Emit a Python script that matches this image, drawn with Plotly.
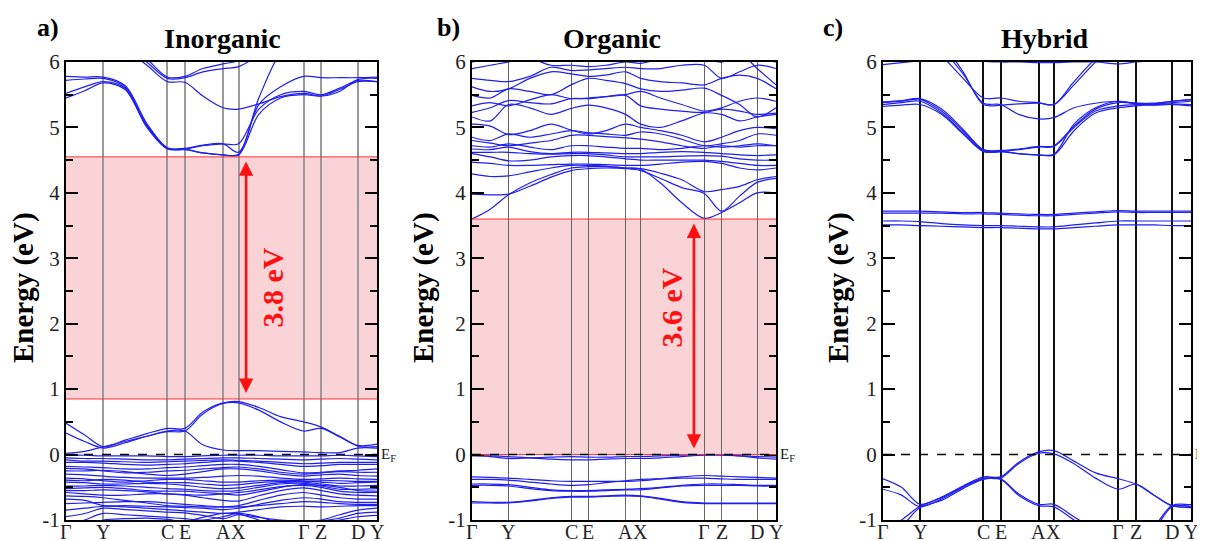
import plotly.graph_objects as go

# ---------------- data ----------------
K_NODES = [0, 0.12, 0.326, 0.382, 0.505, 0.555, 0.764, 0.821, 0.938, 1.0]
K_LABELS = ["Γ", "Y", "C", "E", "A", "X", "Γ", "Z", "D", "Y"]
K_GRID = [0, .06, .12, .19, .26, .326, .382, .44, .505, .555, .62, .69, .764, .821, .88, .938, 1.0]
Y_TICKS = [-1, 0, 1, 2, 3, 4, 5, 6]
Y_TICKTEXT = ["-1", "0", "1", "2", "3", "4", "5", "6"]

PANEL_TITLES = ["Inorganic", "Organic", "Hybrid"]
PANEL_TAGS = ["a)", "b)", "c)"]

# Inorganic bands (eV) at K_GRID
INORG_CB = [
    [5.45, 5.56, 5.68, 5.58, 5.00, 4.67, 4.66, 4.61, 4.58, 4.58, 5.20, 5.45, 5.50, 5.48, 5.58, 5.70, 5.70],
    [5.52, 5.62, 5.70, 5.60, 5.02, 4.68, 4.67, 4.72, 4.75, 4.75, 5.28, 5.50, 5.55, 5.50, 5.60, 5.72, 5.70],
    [5.72, 5.74, 5.75, 5.62, 5.04, 4.68, 4.67, 4.61, 4.58, 4.59, 5.35, 5.62, 5.78, 5.76, 5.76, 5.76, 5.77],
    [5.78, 5.77, 5.77, 5.64, 5.06, 4.69, 4.68, 4.73, 4.75, 4.62, 5.45, 6.15, 6.5, 6.6, 6.6, 6.6, 6.6],
    [6.5, 6.45, 6.35, 6.2, 5.95, 5.70, 5.69, 5.48, 5.30, 5.28, 5.36, 5.47, 5.52, 5.48, 5.55, 5.73, 5.75],
    [6.6, 6.55, 6.45, 6.3, 6.0, 5.75, 5.76, 5.85, 5.90, 5.93, 6.1, 6.3, 6.4, 6.4, 6.4, 6.4, 6.4],
    [6.7, 6.6, 6.5, 6.35, 6.05, 5.77, 5.78, 5.90, 5.97, 6.02, 6.2, 6.4, 6.5, 6.5, 6.5, 6.5, 6.5],
]
INORG_VB = [
    [0.48, 0.30, 0.12, 0.22, 0.32, 0.40, 0.40, 0.65, 0.79, 0.81, 0.72, 0.58, 0.50, 0.42, 0.28, 0.14, 0.16],
    [0.33, 0.20, 0.10, 0.18, 0.28, 0.35, 0.36, 0.62, 0.78, 0.79, 0.68, 0.50, 0.36, 0.40, 0.27, 0.13, 0.12],
    [0.02, 0.05, 0.12, 0.20, 0.28, 0.36, 0.36, 0.15, 0.07, 0.06, 0.06, 0.05, 0.04, 0.03, 0.03, 0.10, 0.10],
    [-0.01, -0.01, -0.02, -0.02, -0.02, -0.03, -0.03, -0.02, -0.01, -0.01, -0.01, -0.02, -0.02, -0.02, -0.01, -0.02, -0.03],
    [-0.05, -0.06, -0.06, -0.07, -0.08, -0.08, -0.07, -0.06, -0.05, -0.05, -0.06, -0.07, -0.08, -0.07, -0.06, -0.07, -0.08],
    [-0.08, -0.10, -0.10, -0.11, -0.12, -0.11, -0.10, -0.09, -0.08, -0.09, -0.10, -0.12, -0.14, -0.13, -0.12, -0.12, -0.12],
    [-0.12, -0.12, -0.13, -0.15, -0.16, -0.15, -0.14, -0.12, -0.10, -0.10, -0.12, -0.15, -0.18, -0.17, -0.15, -0.15, -0.15],
    [-0.18, -0.19, -0.20, -0.22, -0.22, -0.20, -0.19, -0.17, -0.15, -0.15, -0.18, -0.23, -0.28, -0.27, -0.25, -0.24, -0.22],
    [-0.21, -0.22, -0.25, -0.28, -0.27, -0.25, -0.24, -0.22, -0.20, -0.19, -0.22, -0.27, -0.30, -0.28, -0.26, -0.27, -0.27],
    [-0.25, -0.25, -0.24, -0.26, -0.30, -0.32, -0.30, -0.26, -0.22, -0.22, -0.25, -0.30, -0.33, -0.31, -0.30, -0.32, -0.33],
    [-0.30, -0.31, -0.33, -0.35, -0.36, -0.36, -0.36, -0.35, -0.33, -0.32, -0.33, -0.36, -0.38, -0.37, -0.36, -0.37, -0.38],
    [-0.36, -0.37, -0.40, -0.42, -0.40, -0.38, -0.38, -0.40, -0.42, -0.42, -0.40, -0.39, -0.40, -0.42, -0.44, -0.43, -0.42],
    [-0.39, -0.40, -0.38, -0.39, -0.42, -0.43, -0.43, -0.45, -0.47, -0.46, -0.43, -0.41, -0.41, -0.40, -0.40, -0.41, -0.41],
    [-0.42, -0.43, -0.45, -0.45, -0.44, -0.45, -0.47, -0.50, -0.52, -0.51, -0.47, -0.43, -0.42, -0.45, -0.48, -0.48, -0.47],
    [-0.48, -0.48, -0.47, -0.48, -0.50, -0.52, -0.53, -0.55, -0.56, -0.55, -0.50, -0.45, -0.44, -0.48, -0.53, -0.53, -0.52],
    [-0.52, -0.51, -0.50, -0.52, -0.55, -0.56, -0.56, -0.58, -0.60, -0.62, -0.57, -0.50, -0.46, -0.47, -0.50, -0.55, -0.56],
    [-0.55, -0.55, -0.54, -0.55, -0.57, -0.60, -0.61, -0.62, -0.60, -0.58, -0.54, -0.49, -0.47, -0.50, -0.56, -0.58, -0.58],
    [-0.58, -0.60, -0.62, -0.62, -0.60, -0.60, -0.62, -0.66, -0.70, -0.71, -0.63, -0.55, -0.51, -0.55, -0.60, -0.62, -0.63],
    [-0.63, -0.64, -0.66, -0.70, -0.74, -0.78, -0.79, -0.80, -0.80, -0.78, -0.70, -0.62, -0.58, -0.62, -0.66, -0.68, -0.68],
    [-0.68, -0.70, -0.78, -0.78, -0.79, -0.80, -0.81, -0.82, -0.84, -0.82, -0.76, -0.70, -0.66, -0.68, -0.72, -0.73, -0.73],
    [-0.75, -0.74, -0.73, -0.72, -0.72, -0.74, -0.76, -0.78, -0.80, -0.80, -0.78, -0.75, -0.72, -0.73, -0.75, -0.76, -0.76],
    [-0.85, -0.82, -0.79, -0.80, -0.82, -0.84, -0.86, -0.88, -0.90, -0.88, -0.84, -0.80, -0.79, -0.80, -0.79, -0.78, -0.78],
    [-0.95, -0.90, -0.82, -0.84, -0.86, -0.88, -0.89, -0.93, -0.98, -0.92, -0.96, -1.00, -1.02, -1.00, -0.92, -0.85, -0.82],
    [-1.10, -1.00, -0.90, -0.92, -0.94, -0.96, -0.98, -1.00, -0.95, -0.90, -0.95, -1.05, -1.10, -1.02, -0.97, -0.90, -0.88],
    [-1.20, -1.10, -1.00, -0.98, -0.97, -0.99, -1.02, -0.96, -0.90, -0.91, -1.00, -1.10, -1.15, -1.05, -1.00, -0.95, -0.93],
]

# Organic bands
ORG_CB = [
    [3.60, 3.75, 3.97, 4.15, 4.28, 4.38, 4.40, 4.40, 4.38, 4.36, 4.15, 3.85, 3.61, 3.70, 3.85, 4.00, 4.00],
    [3.98, 3.97, 3.98, 4.10, 4.24, 4.34, 4.37, 4.38, 4.37, 4.34, 4.22, 4.08, 3.99, 3.72, 3.95, 4.16, 4.22],
    [4.29, 4.25, 4.26, 4.32, 4.38, 4.42, 4.42, 4.41, 4.38, 4.37, 4.30, 4.20, 4.02, 4.05, 4.10, 4.20, 4.25],
    [4.47, 4.45, 4.42, 4.42, 4.43, 4.44, 4.44, 4.43, 4.42, 4.42, 4.44, 4.47, 4.48, 4.45, 4.38, 4.35, 4.38],
    [4.60, 4.55, 4.49, 4.50, 4.55, 4.57, 4.57, 4.55, 4.52, 4.50, 4.50, 4.50, 4.50, 4.48, 4.45, 4.42, 4.42],
    [4.62, 4.62, 4.62, 4.60, 4.59, 4.60, 4.60, 4.58, 4.55, 4.55, 4.55, 4.56, 4.57, 4.56, 4.52, 4.50, 4.50],
    [4.67, 4.66, 4.70, 4.63, 4.60, 4.62, 4.62, 4.61, 4.60, 4.60, 4.62, 4.63, 4.62, 4.60, 4.58, 4.57, 4.58],
    [4.72, 4.70, 4.75, 4.70, 4.66, 4.72, 4.72, 4.70, 4.68, 4.68, 4.66, 4.68, 4.72, 4.70, 4.72, 4.75, 4.72],
    [4.80, 4.76, 4.72, 4.76, 4.80, 4.88, 4.88, 4.86, 4.84, 4.82, 4.78, 4.72, 4.68, 4.72, 4.70, 4.72, 4.72],
    [4.85, 4.80, 4.90, 4.85, 4.90, 4.95, 4.92, 4.90, 4.88, 4.93, 4.90, 4.82, 4.72, 4.75, 4.80, 4.90, 4.88],
    [5.05, 5.02, 4.89, 4.95, 5.05, 4.96, 4.90, 4.95, 5.05, 5.00, 4.95, 4.88, 4.78, 4.85, 4.95, 5.00, 4.98],
    [5.16, 5.10, 5.35, 5.30, 5.20, 5.29, 5.34, 5.30, 5.20, 5.05, 5.00, 5.10, 5.22, 5.20, 5.10, 5.16, 5.20],
    [5.23, 5.30, 5.41, 5.38, 5.36, 5.44, 5.44, 5.47, 5.49, 5.33, 5.28, 5.25, 5.23, 5.28, 5.25, 5.20, 5.22],
    [5.33, 5.38, 5.33, 5.42, 5.50, 5.44, 5.45, 5.47, 5.50, 5.55, 5.45, 5.35, 5.25, 5.30, 5.40, 5.45, 5.40],
    [5.49, 5.45, 5.59, 5.55, 5.50, 5.65, 5.75, 5.72, 5.67, 5.59, 5.55, 5.57, 5.60, 5.49, 5.35, 5.16, 5.30],
    [5.62, 5.55, 5.59, 5.75, 5.85, 5.82, 5.78, 5.80, 5.85, 5.75, 5.70, 5.68, 5.65, 5.75, 5.80, 5.75, 5.59],
    [5.75, 5.72, 5.70, 5.78, 5.92, 5.87, 5.88, 5.90, 5.92, 5.90, 5.90, 5.95, 5.95, 5.75, 5.85, 5.95, 5.90],
    [5.90, 5.95, 6.00, 6.05, 5.95, 5.95, 5.93, 5.95, 6.00, 5.98, 6.05, 6.10, 6.05, 6.00, 6.10, 6.05, 6.00],
    [6.00, 6.05, 6.10, 6.20, 6.30, 6.20, 6.10, 6.10, 6.20, 6.20, 6.30, 6.30, 6.30, 6.20, 6.15, 5.90, 5.65],
]
ORG_VB = [
    [-0.01, -0.03, -0.06, -0.05, -0.04, -0.03, -0.04, -0.04, -0.03, -0.03, -0.02, -0.01, 0.00, 0.00, -0.02, -0.05, -0.07],
    [-0.02, -0.02, -0.03, -0.05, -0.07, -0.08, -0.08, -0.07, -0.06, -0.06, -0.05, -0.03, -0.01, -0.01, -0.02, -0.03, -0.04],
    [-0.34, -0.35, -0.36, -0.38, -0.40, -0.41, -0.41, -0.41, -0.41, -0.40, -0.37, -0.34, -0.32, -0.33, -0.34, -0.35, -0.36],
    [-0.38, -0.38, -0.39, -0.42, -0.45, -0.47, -0.46, -0.43, -0.40, -0.38, -0.37, -0.36, -0.36, -0.37, -0.38, -0.38, -0.38],
    [-0.45, -0.45, -0.46, -0.50, -0.54, -0.55, -0.55, -0.54, -0.53, -0.52, -0.50, -0.47, -0.45, -0.45, -0.46, -0.47, -0.47],
    [-0.47, -0.47, -0.48, -0.52, -0.55, -0.56, -0.56, -0.55, -0.54, -0.54, -0.51, -0.48, -0.47, -0.47, -0.47, -0.48, -0.48],
    [-0.72, -0.73, -0.73, -0.70, -0.66, -0.64, -0.64, -0.63, -0.62, -0.63, -0.67, -0.72, -0.74, -0.74, -0.74, -0.74, -0.74],
    [-0.74, -0.74, -0.74, -0.71, -0.67, -0.65, -0.65, -0.64, -0.63, -0.64, -0.68, -0.73, -0.75, -0.75, -0.75, -0.75, -0.75],
]

# Hybrid bands
HYB_CB = [
    [5.32, 5.34, 5.35, 5.20, 4.90, 4.63, 4.63, 4.66, 4.70, 4.71, 5.00, 5.25, 5.33, 5.35, 5.34, 5.35, 5.33],
    [5.35, 5.38, 5.40, 5.22, 4.92, 4.64, 4.63, 4.60, 4.58, 4.58, 4.95, 5.22, 5.30, 5.33, 5.35, 5.36, 5.35],
    [5.38, 5.40, 5.43, 5.25, 4.95, 4.65, 4.64, 4.60, 4.58, 4.59, 5.05, 5.30, 5.40, 5.36, 5.36, 5.40, 5.42],
    [5.39, 5.41, 5.44, 5.28, 4.97, 4.66, 4.65, 4.67, 4.71, 4.72, 5.02, 5.28, 5.38, 5.37, 5.37, 5.40, 5.43],
    [6.6, 6.5, 6.4, 6.1, 5.75, 5.45, 5.45, 5.40, 5.38, 5.35, 5.70, 6.05, 6.3, 6.3, 6.3, 6.3, 6.3],
    [6.7, 6.6, 6.5, 6.2, 5.82, 5.37, 5.35, 5.20, 5.13, 5.15, 5.30, 5.37, 5.40, 5.37, 5.36, 5.38, 5.40],
    [6.8, 6.7, 6.6, 6.3, 5.85, 5.35, 5.34, 5.36, 5.37, 5.35, 5.65, 6.0, 6.3, 6.3, 6.3, 6.3, 6.3],
    [5.96, 5.99, 6.02, 6.05, 6.03, 6.01, 6.00, 6.00, 5.99, 5.99, 6.00, 6.00, 5.97, 6.00, 6.02, 6.05, 6.05],
    [3.72, 3.72, 3.72, 3.71, 3.70, 3.70, 3.69, 3.68, 3.67, 3.67, 3.69, 3.71, 3.73, 3.72, 3.72, 3.72, 3.72],
    [3.69, 3.69, 3.69, 3.69, 3.68, 3.68, 3.67, 3.66, 3.65, 3.65, 3.67, 3.69, 3.71, 3.70, 3.70, 3.70, 3.70],
    [3.57, 3.57, 3.56, 3.53, 3.51, 3.50, 3.50, 3.49, 3.48, 3.48, 3.51, 3.54, 3.57, 3.57, 3.57, 3.57, 3.57],
    [3.51, 3.51, 3.50, 3.49, 3.48, 3.47, 3.47, 3.46, 3.45, 3.45, 3.47, 3.49, 3.51, 3.51, 3.51, 3.50, 3.50],
]
HYB_VB = [
    [-0.37, -0.50, -0.76, -0.65, -0.48, -0.34, -0.34, -0.12, 0.04, 0.06, -0.10, -0.28, -0.37, -0.45, -0.62, -0.78, -0.76],
    [-0.53, -0.62, -0.80, -0.68, -0.50, -0.36, -0.36, -0.14, 0.02, 0.01, -0.14, -0.36, -0.53, -0.45, -0.62, -0.78, -0.81],
    [-1.15, -1.00, -0.79, -0.66, -0.49, -0.37, -0.37, -0.60, -0.76, -0.76, -0.95, -1.15, -1.30, -1.30, -1.10, -0.78, -0.77],
    [-1.30, -1.10, -0.81, -0.70, -0.52, -0.38, -0.38, -0.62, -0.78, -0.80, -1.00, -1.20, -1.35, -1.35, -1.15, -0.80, -0.80],
]

GAP_RANGES = [[0.85, 4.55], [0.0, 3.6], None]
GAP_LABELS = ["3.8 eV", "3.6 eV", None]
GAP_ARROW_K = [0.579, 0.73, None]
GAP_LABEL_POS = [[0.665, 2.55], [0.655, 2.25], None]

# ---------------- layout geometry (reference pixel positions) ----------------
# The page body has an 8px margin, so the figure is 8px smaller and offset.
OFF = 8
W, H = 1205 - OFF, 541 - OFF


def px(x):
    return (x - OFF) / W


def py(y):
    return 1 - (y - OFF) / H


X_PIX = [[66, 377], [472, 776], [883, 1191]]
X_DOMAINS = [[px(a), px(b)] for a, b in X_PIX]
Y_DOMAIN = [py(520), py(62)]
TITLE_X = [222, 612, 1045]
TAG_X = [48, 448, 833]
YTITLE_X = [23, 423, 838]
VLINE_COLORS = ["#9a9a9a", "#666666", "#111111"]
VLINE_WIDTHS = [1.5, 1.0, 1.6]
SERIF = "Liberation Serif, Times New Roman, serif"
BAND_COLOR = "#1f1fef"

fig = go.Figure()
all_bands = [INORG_CB + INORG_VB, ORG_CB + ORG_VB, HYB_CB + HYB_VB]
for p, bands in enumerate(all_bands):
    xa = "x" if p == 0 else f"x{p+1}"
    ya = "y" if p == 0 else f"y{p+1}"
    for b in bands:
        fig.add_trace(go.Scatter(
            x=K_GRID, y=b, mode="lines", xaxis=xa, yaxis=ya,
            line=dict(color=BAND_COLOR, width=1.2, shape="spline", smoothing=0.9),
            showlegend=False, hoverinfo="skip"))

layout = dict(
    width=W, height=H, margin=dict(l=0, r=0, t=0, b=0, autoexpand=False),
    paper_bgcolor="white", plot_bgcolor="white", showlegend=False,
)
shapes = []
annotations = []
for p in range(3):
    sx = "" if p == 0 else str(p + 1)
    layout["xaxis" + sx] = dict(
        domain=X_DOMAINS[p], range=[0, 1], anchor="y" + sx, automargin=False,
        tickvals=K_NODES, showticklabels=False, ticks="",
        showgrid=True, gridcolor=VLINE_COLORS[p], gridwidth=VLINE_WIDTHS[p],
        zeroline=False, showline=True, linecolor="black", linewidth=2.2, mirror=True,
    )
    layout["yaxis" + sx] = dict(
        domain=Y_DOMAIN, range=[-1, 6], anchor="x" + sx, automargin=False,
        tickvals=Y_TICKS, ticktext=Y_TICKTEXT, ticks="inside", ticklen=12, tickwidth=2.4,
        tickcolor="black", showgrid=False, zeroline=False, showline=True,
        linecolor="black", linewidth=2.2, mirror="ticks",
        minor=dict(ticks="inside", ticklen=7, tickwidth=2.2, dtick=0.5, tick0=0, tickcolor="black", showgrid=False),
        tickfont=dict(family=SERIF, size=21, color="#222"),
    )
    xr, yr = "x" + sx, "y" + sx
    # k-path labels under each panel
    for kv, kl in zip(K_NODES, K_LABELS):
        annotations.append(dict(x=kv, y=py(519), xref=xr, yref="paper", text=kl,
                                showarrow=False, xanchor="center", yanchor="top",
                                font=dict(family=SERIF, size=20, color="#222")))
    # darker vertical line at A in panel a
    if p == 0:
        shapes.append(dict(type="line", xref=xr, yref="y domain", x0=K_NODES[4], x1=K_NODES[4],
                           y0=0, y1=1, line=dict(color="#333333", width=1), layer="below"))
    # gap shading
    if GAP_RANGES[p] is not None:
        lo, hi = GAP_RANGES[p]
        shapes.append(dict(type="rect", xref=xr, yref=yr, x0=0, x1=1, y0=lo, y1=hi,
                           fillcolor="rgba(240,120,130,0.33)", line=dict(width=0), layer="below"))
        for yv in (lo, hi):
            shapes.append(dict(type="line", xref=xr, yref=yr, x0=0, x1=1, y0=yv, y1=yv,
                               line=dict(color="#ff3030", width=1), layer="above"))
        ak = GAP_ARROW_K[p]
        annotations.append(dict(x=ak, y=hi - 0.07, ax=ak, ay=lo + 0.07, xref=xr, yref=yr,
                                axref=xr, ayref=yr, text="", showarrow=True, arrowhead=2,
                                arrowside="end+start", arrowsize=1.1, arrowwidth=2.6,
                                arrowcolor="#ff1010"))
        lx, ly = GAP_LABEL_POS[p]
        annotations.append(dict(x=lx, y=ly, xref=xr, yref=yr, text="<b>" + GAP_LABELS[p] + "</b>",
                                showarrow=False, textangle=-90, xanchor="center", yanchor="middle",
                                font=dict(family=SERIF, size=30, color="#ff1010")))
    # Fermi level
    shapes.append(dict(type="line", xref=xr, yref=yr, x0=0, x1=1, y0=0, y1=0,
                       line=dict(color="black", width=1.4, dash="dash"), layer="above"))
    annotations.append(dict(x=X_DOMAINS[p][1] + 2 / W, y=0, xref="paper", yref=yr,
                            text="E<sub>F</sub>", showarrow=False, xanchor="left", yanchor="middle",
                            font=dict(family=SERIF, size=15, color="#222")))
    # titles
    annotations.append(dict(x=px(TITLE_X[p]), y=py(38), xref="paper", yref="paper",
                            text="<b>" + PANEL_TITLES[p] + "</b>", showarrow=False,
                            xanchor="center", yanchor="middle",
                            font=dict(family=SERIF, size=28, color="black")))
    annotations.append(dict(x=px(TAG_X[p]), y=py(28), xref="paper", yref="paper",
                            text="<b>" + PANEL_TAGS[p] + "</b>", showarrow=False,
                            xanchor="center", yanchor="middle",
                            font=dict(family=SERIF, size=26, color="black")))
    annotations.append(dict(x=px(YTITLE_X[p]), y=py(288), xref="paper", yref="paper",
                            text="<b>Energy (eV)</b>", showarrow=False, textangle=-90,
                            xanchor="center", yanchor="middle",
                            font=dict(family=SERIF, size=29, color="black")))

layout["shapes"] = shapes
layout["annotations"] = annotations
fig.update_layout(**layout)
fig.write_html("out.html")
